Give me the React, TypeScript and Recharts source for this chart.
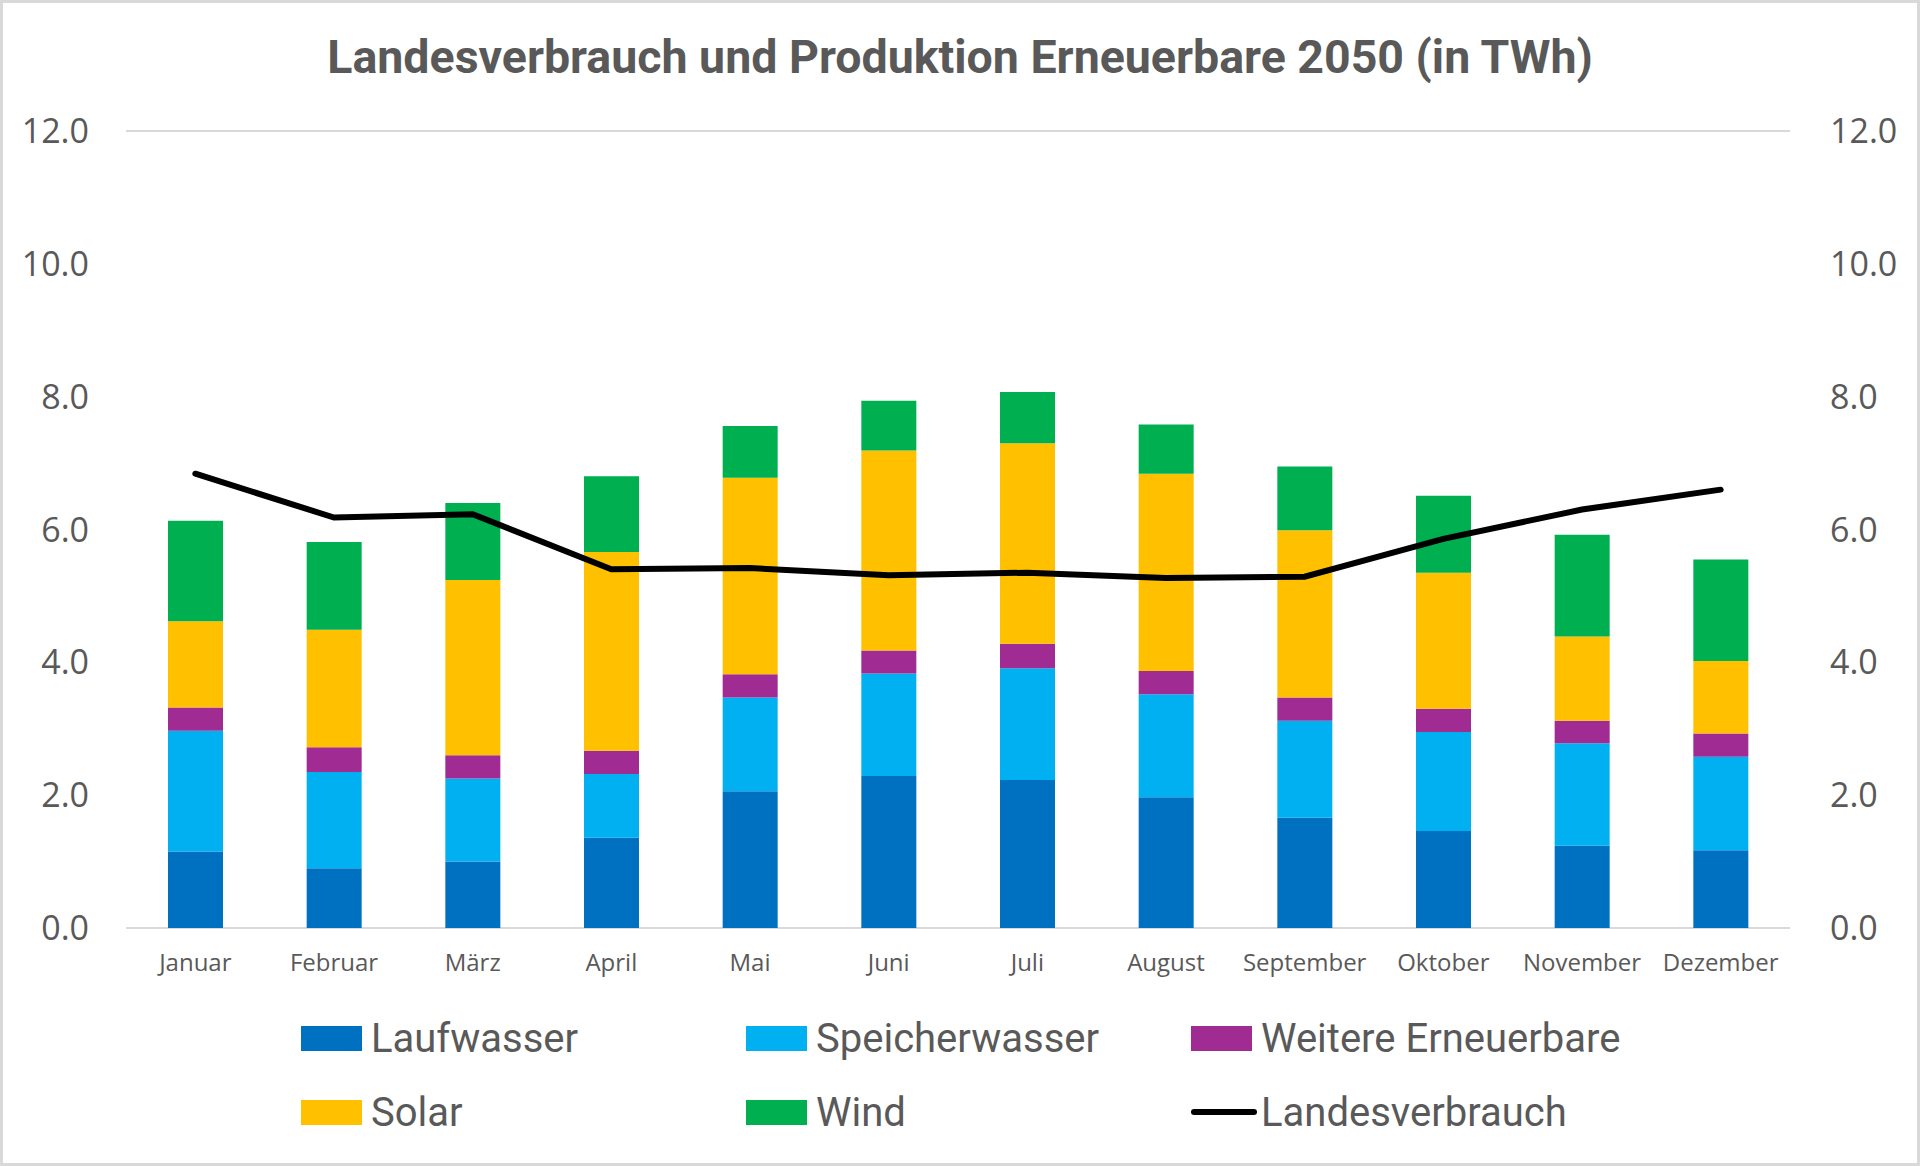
import React from "react";
import {
  ComposedChart,
  Bar,
  Line,
  XAxis,
  YAxis,
  CartesianGrid,
  Legend,
} from "recharts";

const months = [
  "Januar", "Februar", "März", "April", "Mai", "Juni",
  "Juli", "August", "September", "Oktober", "November", "Dezember",
];

// values in TWh
const laufwasser = [1.15, 0.9, 1.0, 1.36, 2.06, 2.29, 2.23, 1.97, 1.66, 1.46, 1.24, 1.17];
const speicherwasser = [1.82, 1.45, 1.25, 0.96, 1.41, 1.54, 1.68, 1.55, 1.46, 1.49, 1.54, 1.41];
const weitere = [0.35, 0.37, 0.35, 0.35, 0.35, 0.35, 0.37, 0.35, 0.35, 0.35, 0.34, 0.35];
const solar = [1.3, 1.77, 2.64, 2.99, 2.96, 3.01, 3.02, 2.97, 2.52, 2.05, 1.27, 1.09];
const wind = [1.51, 1.32, 1.16, 1.14, 0.78, 0.75, 0.77, 0.74, 0.96, 1.16, 1.53, 1.53];
const landesverbrauch = [6.84, 6.18, 6.23, 5.4, 5.42, 5.31, 5.35, 5.27, 5.29, 5.86, 6.3, 6.6];

const yTicks = [0, 2, 4, 6, 8, 10, 12];

const SERIES = [
  { key: "laufwasser", name: "Laufwasser", color: "#0070C0" },
  { key: "speicherwasser", name: "Speicherwasser", color: "#00B0F0" },
  { key: "weitere", name: "Weitere Erneuerbare", color: "#A02B93" },
  { key: "solar", name: "Solar", color: "#FFC000" },
  { key: "wind", name: "Wind", color: "#00B050" },
];

const data = months.map((m, i) => ({
  month: m,
  laufwasser: laufwasser[i],
  speicherwasser: speicherwasser[i],
  weitere: weitere[i],
  solar: solar[i],
  wind: wind[i],
  landesverbrauch: landesverbrauch[i],
}));

const TEXT = "#595959";

function LegendBox() {
  const items = [
    ...SERIES.map((s) => ({ name: s.name, color: s.color, line: false })),
    { name: "Landesverbrauch", color: "#000", line: true },
  ];
  return (
    <div style={{ position: "relative", width: 1300, height: 120 }}>
      {items.map((it, i) => {
        const col = i % 3;
        const row = Math.floor(i / 3);
        return (
          <div
            key={it.name}
            style={{
              position: "absolute",
              left: col * 445,
              top: row * 74,
              height: 44,
              display: "flex",
              alignItems: "center",
              fontFamily: "Roboto, sans-serif",
              fontSize: 40,
              color: TEXT,
              whiteSpace: "nowrap",
            }}
          >
            {it.line ? (
              <span
                style={{
                  display: "inline-block",
                  width: 66,
                  height: 6,
                  borderRadius: 3,
                  background: it.color,
                  marginRight: 4,
                }}
              />
            ) : (
              <span
                style={{
                  display: "inline-block",
                  width: 61,
                  height: 25,
                  background: it.color,
                  marginRight: 9,
                }}
              />
            )}
            {it.name}
          </div>
        );
      })}
    </div>
  );
}

export default function App() {
  return (
    <div
      style={{
        position: "absolute",
        left: 0,
        top: 0,
        width: 1920,
        height: 1166,
        background: "#fff",
        overflow: "hidden",
      }}
    >
      <div
        style={{
          position: "absolute",
          left: 0,
          top: 29,
          width: 1920,
          textAlign: "center",
          fontFamily: "Roboto, sans-serif",
          fontWeight: 700,
          fontSize: 46.5,
          color: TEXT,
          lineHeight: "56px",
        }}
      >
        Landesverbrauch und Produktion Erneuerbare 2050 (in TWh)
      </div>

      <ComposedChart
        width={1920}
        height={1166}
        data={data}
        margin={{ top: 131, right: 0, left: 0, bottom: 178 }}
      >
        <CartesianGrid vertical={false} stroke="#d9d9d9" strokeWidth={2} />
        <XAxis
          dataKey="month"
          axisLine={false}
          tickLine={false}
          tickSize={0}
          tickMargin={26}
          height={60}
          interval={0}
          tick={{ fill: TEXT, fontSize: 24, fontFamily: "'Open Sans', sans-serif" }}
        />
        <YAxis
          yAxisId="left"
          orientation="left"
          width={126}
          domain={[0, 12]}
          ticks={yTicks}
          axisLine={false}
          tickLine={false}
          tickSize={0}
          tickMargin={37}
          tickFormatter={(v: number) => v.toFixed(1)}
          tick={{ fill: TEXT, fontSize: 34, fontFamily: "'Open Sans', sans-serif" }}
        />
        <YAxis
          yAxisId="right"
          orientation="right"
          width={130}
          domain={[0, 12]}
          ticks={yTicks}
          axisLine={false}
          tickLine={false}
          tickSize={0}
          tickMargin={40}
          tickFormatter={(v: number) => v.toFixed(1)}
          tick={{ fill: TEXT, fontSize: 34, fontFamily: "'Open Sans', sans-serif" }}
        />
        {SERIES.map((s) => (
          <Bar
            key={s.key}
            yAxisId="left"
            dataKey={s.key}
            name={s.name}
            stackId="prod"
            fill={s.color}
            barSize={55}
            isAnimationActive={false}
          />
        ))}
        <Line
          yAxisId="right"
          dataKey="landesverbrauch"
          name="Landesverbrauch"
          type="linear"
          stroke="#000"
          strokeWidth={6}
          strokeLinecap="round"
          dot={false}
          activeDot={false}
          isAnimationActive={false}
        />
        <Legend
          layout="horizontal"
          verticalAlign="middle"
          align="center"
          content={() => <LegendBox />}
          wrapperStyle={{ left: 301, top: 1016, width: 1300, height: 120 }}
        />
      </ComposedChart>

      <div
        style={{
          position: "absolute",
          left: 0,
          top: 0,
          width: 1920,
          height: 1166,
          boxSizing: "border-box",
          border: "3px solid #d9d9d9",
          pointerEvents: "none",
        }}
      />
    </div>
  );
}
